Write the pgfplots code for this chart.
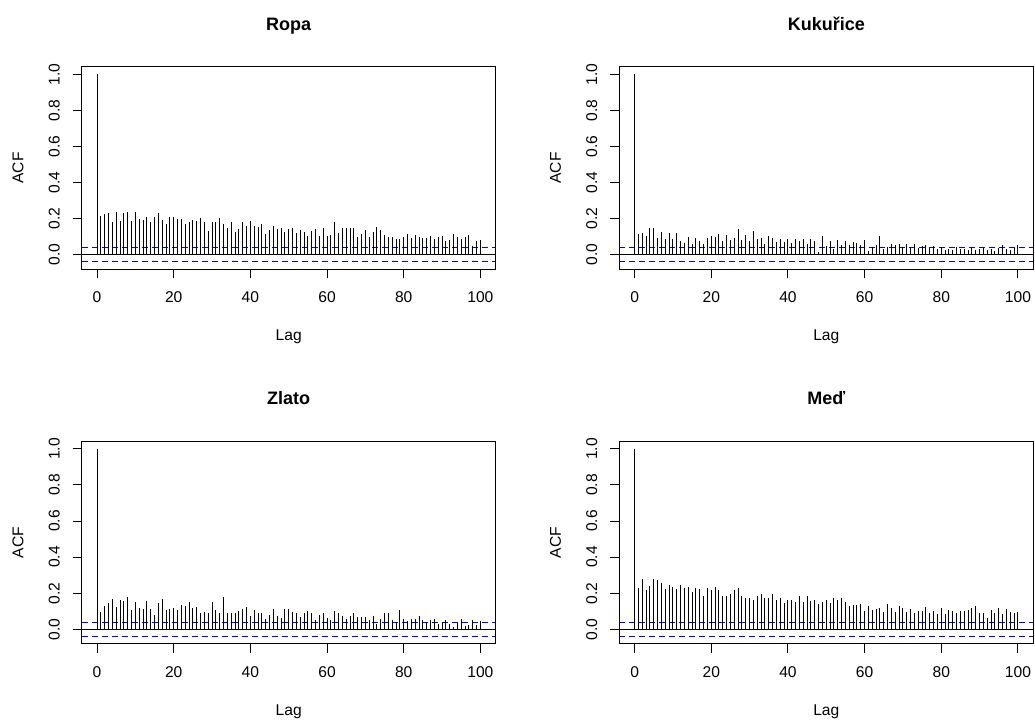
\documentclass[border=0pt]{standalone}
\usepackage{pgfplots}
\pgfplotsset{compat=1.18}
\usepackage{pgfplotstable}
\usepackage{fontspec}
\setmainfont{Liberation Sans}

% Sample autocorrelations, lags 0..100, for the four commodity return series
\pgfplotstableread{
lag ropa kuk zlato med
0 1.0 1.0 1.0 1.0
1 0.213 0.114 0.097 0.229
2 0.224 0.119 0.128 0.277
3 0.229 0.103 0.145 0.218
4 0.182 0.150 0.167 0.240
5 0.235 0.145 0.123 0.277
6 0.187 0.092 0.161 0.272
7 0.229 0.125 0.156 0.255
8 0.235 0.086 0.178 0.224
9 0.187 0.119 0.108 0.246
10 0.235 0.086 0.150 0.235
11 0.198 0.119 0.119 0.224
12 0.193 0.075 0.114 0.246
13 0.207 0.066 0.156 0.229
14 0.182 0.097 0.114 0.235
15 0.207 0.061 0.077 0.207
16 0.229 0.092 0.145 0.229
17 0.193 0.075 0.167 0.224
18 0.167 0.061 0.108 0.187
19 0.207 0.092 0.114 0.229
20 0.207 0.103 0.119 0.218
21 0.198 0.097 0.108 0.235
22 0.198 0.114 0.134 0.218
23 0.172 0.075 0.128 0.182
24 0.178 0.108 0.150 0.187
25 0.193 0.081 0.119 0.198
26 0.187 0.092 0.123 0.215
27 0.202 0.139 0.088 0.229
28 0.182 0.081 0.097 0.182
29 0.130 0.108 0.092 0.176
30 0.182 0.075 0.150 0.171
31 0.178 0.128 0.108 0.165
32 0.202 0.086 0.092 0.182
33 0.167 0.092 0.178 0.193
34 0.147 0.061 0.092 0.176
35 0.178 0.103 0.088 0.176
36 0.123 0.092 0.088 0.193
37 0.139 0.072 0.103 0.160
38 0.182 0.086 0.114 0.176
39 0.158 0.072 0.123 0.145
40 0.187 0.086 0.072 0.165
41 0.161 0.066 0.108 0.160
42 0.154 0.086 0.092 0.150
43 0.172 0.075 0.092 0.182
44 0.112 0.086 0.055 0.150
45 0.134 0.061 0.077 0.187
46 0.161 0.086 0.114 0.156
47 0.139 0.075 0.072 0.160
48 0.150 0.015 0.061 0.139
49 0.125 0.103 0.114 0.150
50 0.139 0.050 0.114 0.160
51 0.150 0.075 0.097 0.145
52 0.117 0.033 0.088 0.176
53 0.134 0.081 0.066 0.165
54 0.125 0.055 0.092 0.176
55 0.103 0.075 0.103 0.150
56 0.128 0.055 0.092 0.128
57 0.139 0.072 0.050 0.134
58 0.103 0.066 0.077 0.134
59 0.145 0.055 0.088 0.139
60 0.103 0.081 0.061 0.103
61 0.108 0.018 0.050 0.128
62 0.182 0.044 0.103 0.108
63 0.119 0.055 0.092 0.114
64 0.145 0.103 0.072 0.119
65 0.150 0.033 0.055 0.097
66 0.145 0.044 0.072 0.139
67 0.150 0.061 0.088 0.119
68 0.097 0.055 0.066 0.097
69 0.114 0.061 0.066 0.128
70 0.134 0.044 0.066 0.119
71 0.097 0.061 0.050 0.097
72 0.123 0.039 0.072 0.114
73 0.154 0.061 0.028 0.092
74 0.134 0.039 0.055 0.103
75 0.108 0.050 0.092 0.103
76 0.097 0.055 0.092 0.123
77 0.097 0.039 0.050 0.088
78 0.086 0.050 0.039 0.103
79 0.086 0.033 0.108 0.083
80 0.097 0.044 0.055 0.119
81 0.114 0.028 0.044 0.083
82 0.092 0.033 0.055 0.108
83 0.108 0.028 0.055 0.103
84 0.097 0.044 0.072 0.088
85 0.092 0.033 0.050 0.103
86 0.092 0.033 0.033 0.103
87 0.103 0.028 0.050 0.108
88 0.086 0.039 0.055 0.119
89 0.097 0.028 0.028 0.128
90 0.103 0.033 0.039 0.092
91 0.077 0.039 0.050 0.088
92 0.083 0.028 0.028 0.061
93 0.114 0.033 0.013 0.108
94 0.097 0.018 0.033 0.092
95 0.086 0.039 0.055 0.119
96 0.097 0.055 0.018 0.083
97 0.108 0.033 0.022 0.114
98 0.048 0.028 0.050 0.097
99 0.077 0.039 0.022 0.088
100 0.083 0.055 0.044 0.097
}\acfdata

% 95% confidence band, +-1.96/sqrt(n)
\def\clim{0.038}

\pgfplotsset{
  acfpanel/.style={
    scale only axis,
    width=310.5pt, height=151.95pt,
    xmin=-4, xmax=104, ymin=-0.0816, ymax=1.0416,
    xtick={0,20,40,60,80,100},
    ytick={0,0.2,0.4,0.6,0.8,1.0},
    tick pos=left, tick align=outside,
    major tick length=6.75pt,
    axis line style={line width=0.75pt, black},
    every tick/.style={black, line width=0.75pt},
    /pgf/number format/assume math mode=true,
    tick label style={font=\fontsize{11.7}{14}\selectfont},
    xticklabel style={anchor=center},
    xticklabel shift=14.25pt,
    yticklabel style={/pgf/number format/fixed, /pgf/number format/fixed zerofill,
      /pgf/number format/precision=1, rotate=90, anchor=center},
    yticklabel shift=13.85pt,
    xlabel={Lag}, ylabel={ACF},
    label style={font=\fontsize{11.7}{14}\selectfont},
    xlabel style={at={(axis description cs:0.5,-0.3514)}, anchor=base},
    ylabel style={at={(axis description cs:-0.1539,0.5)}, anchor=center},
    title style={at={(axis description cs:0.5,1.1402)}, anchor=base,
      font=\bfseries\fontsize{13.5}{16}\selectfont},
  },
  zeroline/.style={black, line width=0.75pt, no marks},
  confline/.style={blue, line width=0.75pt, dash pattern=on 4.5pt off 3pt, no marks},
  acfbars/.style={ycomb, black, line width=0.75pt, no marks},
}

\begin{document}
\begin{tikzpicture}
\path[use as bounding box] (0pt,0pt) rectangle (776.25pt,540pt);

\begin{axis}[acfpanel, at={(61.275pt,338.025pt)}, anchor=south west, title={Ropa}]
  \addplot[zeroline] coordinates {(-4,0) (104,0)};
  \addplot[confline] coordinates {(-4,\clim) (104,\clim)};
  \addplot[confline] coordinates {(-4,-\clim) (104,-\clim)};
  \addplot[acfbars] table[x=lag, y=ropa] {\acfdata};
\end{axis}

\begin{axis}[acfpanel, at={(464.475pt,338.025pt)}, anchor=south west, title={Kukuřice}]
  \addplot[zeroline] coordinates {(-4,0) (104,0)};
  \addplot[confline] coordinates {(-4,\clim) (104,\clim)};
  \addplot[confline] coordinates {(-4,-\clim) (104,-\clim)};
  \addplot[acfbars] table[x=lag, y=kuk] {\acfdata};
\end{axis}

\begin{axis}[acfpanel, at={(61.275pt,57pt)}, anchor=south west, title={Zlato}]
  \addplot[zeroline] coordinates {(-4,0) (104,0)};
  \addplot[confline] coordinates {(-4,\clim) (104,\clim)};
  \addplot[confline] coordinates {(-4,-\clim) (104,-\clim)};
  \addplot[acfbars] table[x=lag, y=zlato] {\acfdata};
\end{axis}

\begin{axis}[acfpanel, at={(464.475pt,57pt)}, anchor=south west, title={Meď}]
  \addplot[zeroline] coordinates {(-4,0) (104,0)};
  \addplot[confline] coordinates {(-4,\clim) (104,\clim)};
  \addplot[confline] coordinates {(-4,-\clim) (104,-\clim)};
  \addplot[acfbars] table[x=lag, y=med] {\acfdata};
\end{axis}
\end{tikzpicture}
\end{document}
